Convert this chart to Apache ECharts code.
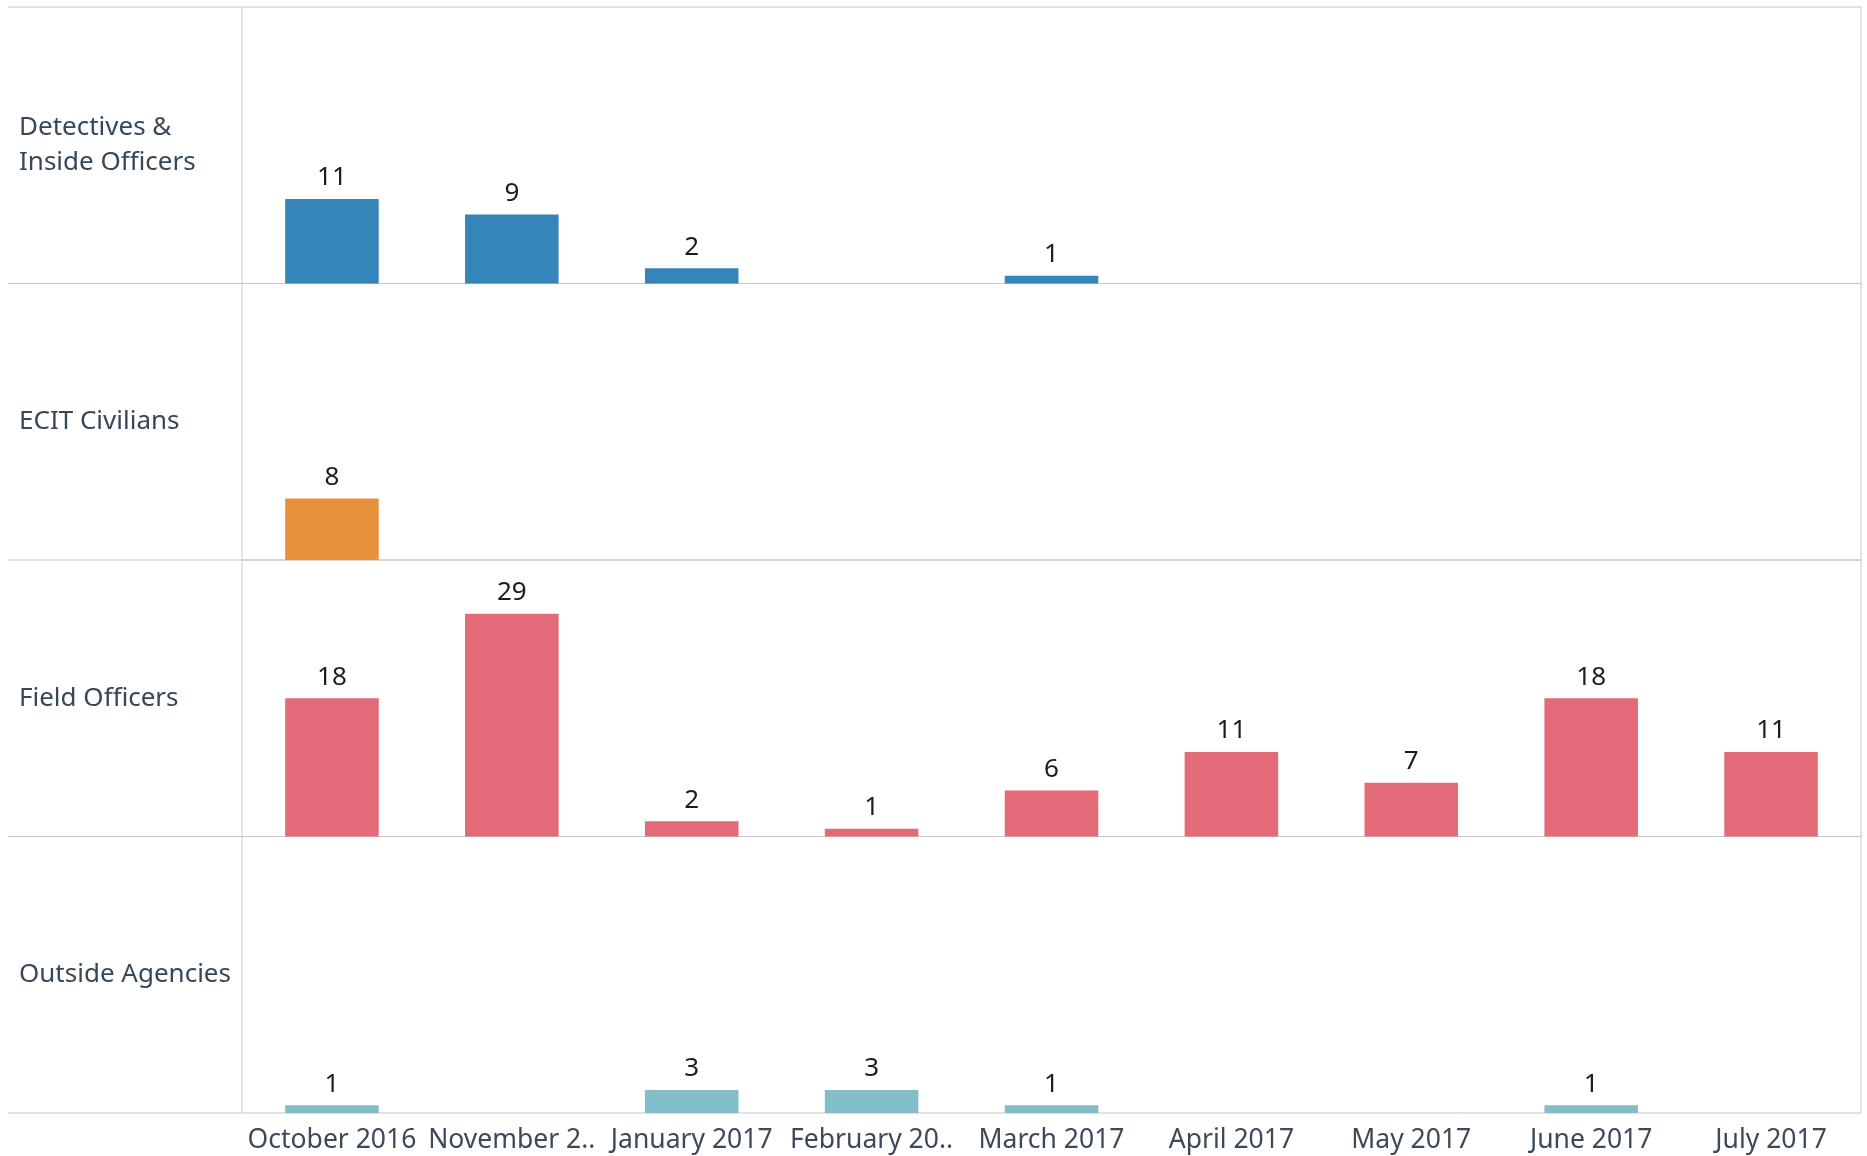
<!DOCTYPE html>
<html>
<head>
<meta charset="utf-8">
<script src="https://cdn.jsdelivr.net/npm/echarts@6/dist/echarts.min.js"></script>
<style>
  html, body { margin: 0; padding: 0; background: #fff; }
  #chart { width: 1867px; height: 1156px; }
</style>
</head>
<body>
<div id="chart"></div>
<script>
// Months shown on the shared x axis (December has no records)
const months = ['October 2016', 'November 2..', 'January 2017', 'February 20..', 'March 2017',
                'April 2017', 'May 2017', 'June 2017', 'July 2017'];

// Row headers (one panel per group)
const groups = ['Detectives &\nInside Officers', 'ECIT Civilians', 'Field Officers', 'Outside Agencies'];

// Counts per month for each group (null = no records)
const detectives = [11, 9, 2, null, 1, null, null, null, null];
const ecitCivilians = [8, null, null, null, null, null, null, null, null];
const fieldOfficers = [18, 29, 2, 1, 6, 11, 7, 18, 11];
const outsideAgencies = [1, null, 3, 3, 1, null, null, 1, null];

const groupColors = ['#3585ba', '#e8913b', '#e36a77', '#82bec9'];
const seriesData = [detectives, ecitCivilians, fieldOfficers, outsideAgencies];

// Panel layout
const FONT = '"Noto Sans", sans-serif';
const panelTop = 7;
const panelH = 276.5;
const plotLeft = 242;
const plotRight = 6;
const ruleLeft = 8;
const ruleColor = '#c6c6c6';
const yMax = 36;

const grids = [], xAxes = [], yAxes = [], series = [], graphics = [];

groups.forEach((name, i) => {
  const top = panelTop + i * panelH;
  const last = i === groups.length - 1;
  grids.push({
    left: plotLeft, right: plotRight, top: top, height: panelH,
    show: true, borderColor: ruleColor, borderWidth: 1, backgroundColor: 'transparent'
  });
  xAxes.push({
    type: 'category', gridIndex: i, data: months,
    axisLine: { show: false }, axisTick: { show: false }, splitLine: { show: false },
    axisLabel: last ? { show: true, interval: 0, fontFamily: FONT, fontSize: 26.5, color: '#3b4a5a', margin: 14 }
                    : { show: false }
  });
  yAxes.push({
    type: 'value', gridIndex: i, min: 0, max: yMax, show: false,
    splitLine: { show: false }
  });
  series.push({
    type: 'bar', name: name.replace('\n', ' '), xAxisIndex: i, yAxisIndex: i,
    data: seriesData[i], barWidth: '52%',
    itemStyle: { color: groupColors[i] },
    label: { show: true, position: 'top', distance: 8, fontFamily: FONT, fontSize: 26, color: '#1c1c24' },
    silent: true
  });
  // rule lines continuing into the row-header column
  graphics.push({
    type: 'line', silent: true,
    shape: { x1: ruleLeft, y1: top, x2: plotLeft, y2: top },
    style: { stroke: ruleColor, lineWidth: 1 }
  });
  if (last) {
    graphics.push({
      type: 'line', silent: true,
      shape: { x1: ruleLeft, y1: top + panelH, x2: plotLeft, y2: top + panelH },
      style: { stroke: ruleColor, lineWidth: 1 }
    });
  }
  // row header text
  graphics.push({
    type: 'text', silent: true, left: 19, top: top + panelH / 2 - (name.includes('\n') ? 35 : 17.5),
    style: { text: name, font: '26px ' + FONT, fill: '#34485a', lineHeight: 35 }
  });
});

const chart = echarts.init(document.getElementById('chart'), null, { renderer: 'canvas' });
chart.setOption({
  animation: false,
  backgroundColor: '#ffffff',
  grid: grids,
  xAxis: xAxes,
  yAxis: yAxes,
  series: series,
  graphic: graphics
});
</script>
</body>
</html>
